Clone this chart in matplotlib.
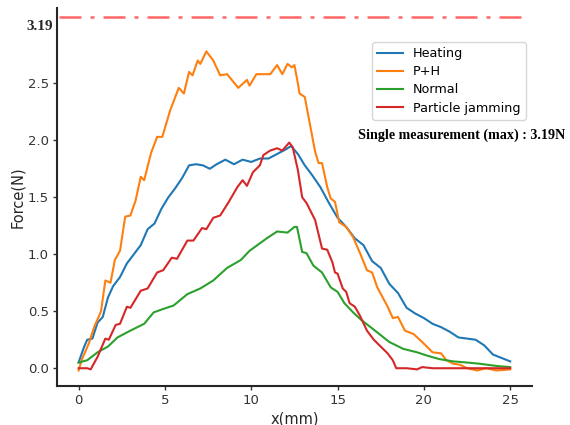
import numpy as np
import matplotlib.pyplot as plt

# Heating
x_heat = [0, 0.3, 0.5, 0.8, 1.1, 1.4, 1.7, 2.0, 2.4, 2.8, 3.2, 3.6, 4.0, 4.4, 4.8, 5.2, 5.6, 6.0,
          6.4, 6.8, 7.2, 7.6, 8.0, 8.5, 9.0, 9.5, 10.0, 10.5, 11.0, 11.5, 12.0, 12.3, 12.7, 13.1,
          13.5, 14.0, 14.5, 15.0, 15.5, 16.0, 16.5, 17.0, 17.5, 18.0, 18.5, 19.0, 19.5, 20.0,
          20.5, 21.0, 21.5, 22.0, 22.5, 23.0, 23.5, 24.0, 24.5, 25.0]
y_heat = [0.05, 0.18, 0.25, 0.26, 0.40, 0.45, 0.62, 0.72, 0.80, 0.92, 1.00, 1.08, 1.22, 1.27,
          1.40, 1.50, 1.58, 1.67, 1.78, 1.79, 1.78, 1.75, 1.79, 1.83, 1.79, 1.83, 1.81, 1.84,
          1.84, 1.88, 1.92, 1.95, 1.88, 1.78, 1.70, 1.59, 1.45, 1.32, 1.24, 1.14, 1.08, 0.94,
          0.88, 0.74, 0.66, 0.53, 0.48, 0.44, 0.39, 0.36, 0.32, 0.27, 0.26, 0.25, 0.20, 0.12,
          0.09, 0.06]

# P+H
x_ph = [0, 0.2, 0.6, 0.9, 1.3, 1.55, 1.85, 2.1, 2.4, 2.7, 3.0, 3.3, 3.6, 3.8, 4.2, 4.55, 4.85,
        5.3, 5.8, 6.1, 6.4, 6.6, 6.9, 7.05, 7.4, 7.8, 8.2, 8.6, 9.25, 9.75, 9.9, 10.3, 11.1,
        11.5, 11.8, 12.1, 12.35, 12.5, 12.7, 12.8, 13.1, 13.5, 13.7, 13.9, 14.1, 14.4, 14.6,
        14.85, 15.1, 15.5, 15.9, 16.3, 16.7, 17.0, 17.3, 17.9, 18.2, 18.5, 18.9, 19.4, 19.9,
        20.5, 21.0, 21.3, 21.7, 22.1, 22.5, 23.1, 23.6, 24.2, 25.0]
y_ph = [-0.02, 0.08, 0.22, 0.36, 0.50, 0.77, 0.75, 0.95, 1.03, 1.33, 1.34, 1.47, 1.68, 1.65,
        1.89, 2.03, 2.03, 2.26, 2.46, 2.41, 2.60, 2.57, 2.70, 2.67, 2.78, 2.70, 2.57, 2.58,
        2.46, 2.53, 2.48, 2.58, 2.58, 2.66, 2.58, 2.67, 2.64, 2.66, 2.50, 2.41, 2.38, 2.06,
        1.90, 1.80, 1.80, 1.59, 1.49, 1.46, 1.28, 1.24, 1.15, 1.01, 0.86, 0.84, 0.71, 0.54,
        0.44, 0.45, 0.33, 0.30, 0.23, 0.14, 0.13, 0.07, 0.04, 0.03, 0.00, -0.02, 0.00, -0.02,
        -0.01]

# Normal
x_norm = [0, 0.5, 1.1, 1.7, 2.25, 3.0, 3.8, 4.35, 4.9, 5.5, 6.3, 7.05, 7.8, 8.6, 9.4, 9.9,
          10.9, 11.5, 12.1, 12.5, 12.65, 12.95, 13.2, 13.6, 14.1, 14.6, 15.0, 15.4, 15.9,
          16.4, 17.0, 17.5, 18.0, 18.8, 19.6, 20.2, 20.9, 21.7, 22.5, 23.2, 24.2, 25.0]
y_norm = [0.05, 0.07, 0.14, 0.19, 0.27, 0.33, 0.39, 0.49, 0.52, 0.55, 0.65, 0.70, 0.77, 0.88,
          0.95, 1.03, 1.14, 1.20, 1.19, 1.24, 1.24, 1.02, 1.01, 0.90, 0.84, 0.71, 0.67, 0.57,
          0.49, 0.42, 0.35, 0.29, 0.23, 0.17, 0.14, 0.11, 0.08, 0.06, 0.05, 0.04, 0.02, 0.01]

# Particle jamming
x_jam = [0, 0.5, 0.7, 1.1, 1.55, 1.75, 2.15, 2.4, 2.8, 3.0, 3.6, 4.0, 4.55, 4.9, 5.4, 5.7,
         6.3, 6.65, 7.15, 7.4, 7.8, 8.2, 8.7, 9.2, 9.5, 9.75, 10.1, 10.5, 10.7, 11.1, 11.5,
         11.8, 12.2, 12.4, 12.7, 12.95, 13.2, 13.7, 14.1, 14.4, 14.7, 14.85, 15.0, 15.3, 15.5,
         15.7, 16.0, 16.3, 16.7, 17.1, 17.5, 17.9, 18.2, 18.4, 19.0, 19.6, 19.9, 20.5, 25.0]
y_jam = [0.00, 0.00, -0.01, 0.10, 0.26, 0.25, 0.38, 0.39, 0.54, 0.53, 0.68, 0.70, 0.84, 0.86,
         0.97, 0.96, 1.12, 1.12, 1.23, 1.22, 1.32, 1.34, 1.46, 1.59, 1.65, 1.60, 1.72, 1.78,
         1.87, 1.91, 1.93, 1.91, 1.98, 1.94, 1.74, 1.50, 1.45, 1.30, 1.05, 1.04, 0.93, 0.84,
         0.83, 0.70, 0.67, 0.57, 0.54, 0.46, 0.33, 0.25, 0.19, 0.13, 0.07, 0.00, 0.00, -0.01,
         0.01, 0.00, 0.00]

max_line = 3.08
max_label = "3.19"

fig = plt.figure(figsize=(5.7, 4.25), dpi=100)
ax = fig.add_axes([0.1, 0.092, 0.833, 0.889])

ax.plot(x_heat, y_heat, color="#1f77b4", lw=1.5, label="Heating", solid_joinstyle="round")
ax.plot(x_ph, y_ph, color="#ff7f0e", lw=1.5, label="P+H", solid_joinstyle="round")
ax.plot(x_norm, y_norm, color="#2ca02c", lw=1.5, label="Normal", solid_joinstyle="round")
ax.plot(x_jam, y_jam, color="#d62728", lw=1.5, label="Particle jamming", solid_joinstyle="round")

ax.axhline(max_line, xmin=0.005, xmax=0.98, color="#ff6666", lw=1.8,
           dashes=(8.8, 3.6, 1.6, 3.6))

ax.set_xlim(-1.25, 26.25)
ax.set_ylim(-0.155, 3.16)
ax.set_xticks([0, 5, 10, 15, 20, 25])
ax.set_yticks([0.0, 0.5, 1.0, 1.5, 2.0, 2.5])
ax.set_yticklabels(["0.0", "0.5", "1.0", "1.5", "2.0", "2.5"])

for side in ["top", "right"]:
    ax.spines[side].set_visible(False)
for side in ["left", "bottom"]:
    ax.spines[side].set_linewidth(1.5)
    ax.spines[side].set_color("#262626")
ax.tick_params(length=3, width=1, colors="#333333", labelsize=9.5, pad=3)

ax.text(-0.008, 3.0, max_label, transform=ax.get_yaxis_transform(), ha="right", va="center",
        family="Liberation Serif", fontweight="bold", fontsize=11, color="#262626")

ax.set_xlabel("x(mm)", fontsize=10.5, color="#262626", labelpad=3)
ax.set_ylabel("Force(N)", fontsize=10.5, color="#262626", labelpad=2)

ax.legend(loc="upper right", bbox_to_anchor=(0.987, 0.91), borderaxespad=0, fontsize=9.2,
          labelspacing=0.4)

ax.text(0.853, 0.664, "Single measurement (max) : " + max_label + "N", transform=ax.transAxes,
        ha="center", va="center", family="Liberation Serif", fontweight="bold", fontsize=10.2)

plt.savefig("out.png")
